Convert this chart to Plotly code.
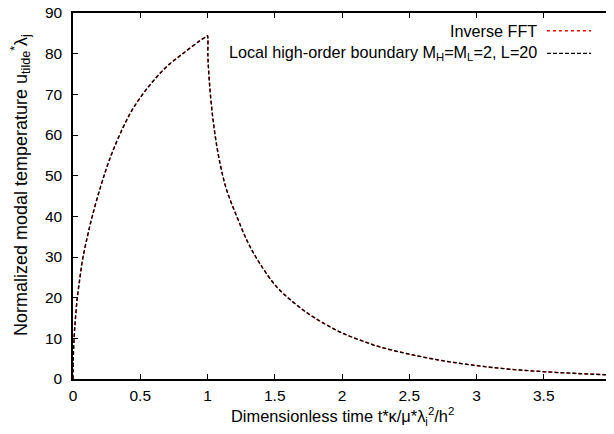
import plotly.graph_objects as go

# Values
t_fft = [0.0, 0.002, 0.008, 0.018, 0.032, 0.05, 0.069, 0.1, 0.143, 0.21, 0.27,
         0.349, 0.448, 0.572, 0.696, 0.82, 0.944, 0.995, 1.0,
         1.003, 1.013, 1.03, 1.055, 1.092, 1.142, 1.22, 1.3, 1.389, 1.513, 1.637,
         1.761, 1.885, 2.008, 2.132, 2.281, 2.5, 2.75, 3.0, 3.25, 3.5, 3.75, 4.0]
u_fft = [0.0, 5.0, 10.0, 14.8, 20.0, 24.5, 29.0, 34.0, 40.0, 47.8, 53.8,
         60.2, 66.6, 72.3, 76.8, 80.1, 83.2, 84.3, 84.4,
         79.3, 73.5, 67.0, 60.3, 53.2, 46.5, 39.8, 33.6, 28.4, 22.7, 18.9,
         15.8, 13.3, 11.2, 9.6, 7.9, 6.1, 4.5, 3.3, 2.4, 1.8, 1.35, 1.0]

t_local = list(t_fft)
u_local = list(u_fft)

x_ticks = [0, 0.5, 1, 1.5, 2, 2.5, 3, 3.5, 4]
y_ticks = [0, 10, 20, 30, 40, 50, 60, 70, 80, 90]

legend_names = ["Inverse FFT",
                "Local high-order boundary M<sub>H</sub>=M<sub>L</sub>=2, L=20"]

FONT = "Liberation Sans, Arial, Helvetica, sans-serif"

fig = go.Figure()
fig.add_trace(go.Scatter(x=t_fft, y=u_fft, mode="lines", name=legend_names[0],
                         line=dict(color="#ff0000", width=1.5, dash="dot",
                                   shape="spline", smoothing=1.0),
                         showlegend=False, cliponaxis=False))
fig.add_trace(go.Scatter(x=t_local, y=u_local, mode="lines", name=legend_names[1],
                         line=dict(color="#000000", width=1.3, dash="4px,2px",
                                   shape="spline", smoothing=1.0),
                         showlegend=False, cliponaxis=False))

axis_common = dict(showgrid=False, zeroline=False, showline=True, linecolor="black",
                   linewidth=1.5, mirror="ticks", ticks="inside", ticklen=5,
                   tickwidth=1, tickcolor="black", automargin=False,
                   ticklabeloverflow="allow",
                   tickfont=dict(family=FONT, size=15.5, color="black"))

fig.update_xaxes(range=[0, 4], tickvals=x_ticks, ticklabelstandoff=2, **axis_common)
fig.update_yaxes(range=[0, 90], tickvals=y_ticks, ticklabelstandoff=6, **axis_common)

# axis titles (placed like gnuplot's labels)
fig.add_annotation(xref="paper", yref="paper", x=-0.0985, y=0.53, showarrow=False,
                   textangle=-90, xanchor="center", yanchor="middle",
                   text="Normalized modal temperature u<sub>tilde</sub><sup>*</sup>λ<sub>j</sub>",
                   font=dict(family=FONT, size=18, color="black"))
fig.add_annotation(xref="paper", yref="paper", x=0.5, y=-0.102, showarrow=False,
                   xanchor="center", yanchor="middle",
                   text="Dimensionless time t*κ/μ*λ<sub>j</sub><sup>2</sup>/h<sup>2</sup>",
                   font=dict(family=FONT, size=16.4, color="black"))

# gnuplot-style legend: text right-aligned, sample to the right
legend_rows = [(0.9516, "#ff0000", "dot", 1.5), (0.8899, "#000000", "4px,2px", 1.3)]
for name, (yy, col, dsh, w) in zip(legend_names, legend_rows):
    fig.add_annotation(xref="paper", yref="paper", x=0.8662, y=yy, showarrow=False,
                       xanchor="right", yanchor="middle", text=name,
                       font=dict(family=FONT, size=16.2, color="black"))
    fig.add_shape(type="line", xref="paper", yref="paper", x0=0.881, x1=0.963,
                  y0=yy, y1=yy, line=dict(color=col, width=w, dash=dsh))

# the page body has an 8px margin; keep the page from scrolling vertically
fig.update_layout(width=606, height=418, paper_bgcolor="white", plot_bgcolor="white",
                  margin=dict(l=65, r=3, t=5, b=47, autoexpand=False), showlegend=False,
                  font=dict(family=FONT, size=15.5, color="black"))

fig.write_html("out.html")
